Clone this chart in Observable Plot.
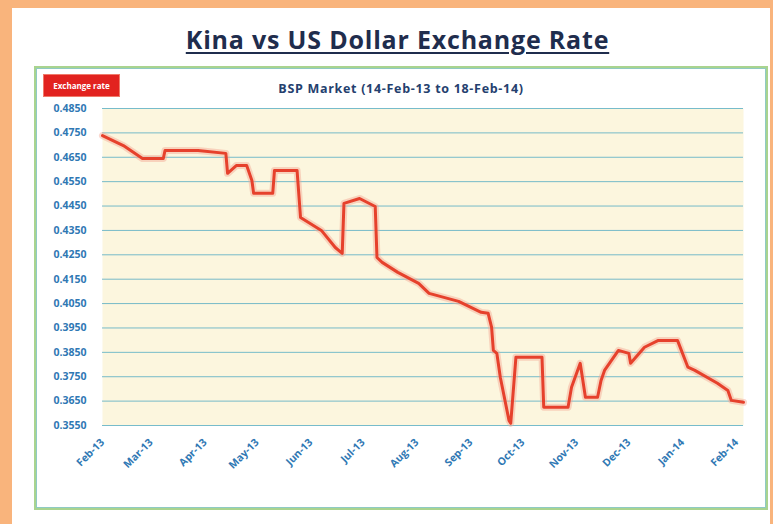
<!DOCTYPE html>
<html>
<head>
<meta charset="utf-8">
<script src="https://cdn.jsdelivr.net/npm/d3@7"></script>
<script src="https://cdn.jsdelivr.net/npm/@observablehq/plot@0.6"></script>
<style>
  html, body { margin: 0; padding: 0; }
  body { width: 773px; height: 524px; background: #f9b47c; position: relative; overflow: hidden; font-family: "Open Sans", sans-serif; }
  #panel { position: absolute; left: 12px; top: 8px; right: 3px; bottom: 0; background: #ffffff; }
  #frame { position: absolute; left: 34px; top: 66px; width: 730px; height: 440px; border: 2px solid #a9d48f; box-shadow: inset 0 0 0 1px #8fcac4; }
  #title { position: absolute; left: 0; width: 795px; top: 22px; text-align: center; font-size: 25px; letter-spacing: 0.8px; font-weight: 700; color: #1f2d4d; text-decoration: underline; text-underline-offset: 3px; }
  #subtitle { position: absolute; left: 0; width: 802px; top: 80px; text-align: center; font-size: 12.5px; letter-spacing: 0.7px; font-weight: 700; color: #24406e; }
  #legend { position: absolute; left: 43px; top: 74px; width: 75px; height: 21px; background: #e2231f; border: 1px solid #f07a6a; color: #fff; font-size: 8px; font-weight: 700; line-height: 21px; text-align: center; }
  #chart { position: absolute; left: 0; top: 0; }
</style>
</head>
<body>
<div id="panel"></div>
<div id="frame"></div>
<div id="title">Kina vs US Dollar Exchange Rate</div>
<div id="subtitle">BSP Market (14-Feb-13 to 18-Feb-14)</div>
<div id="legend">Exchange rate</div>
<div id="chart"></div>
<script>
const dates = [
  "2013-02-14","2013-02-26","2013-03-09","2013-03-21","2013-03-22","2013-04-10","2013-04-26","2013-04-27",
  "2013-05-02","2013-05-08","2013-05-11","2013-05-12","2013-05-23","2013-05-24","2013-06-06","2013-06-08",
  "2013-06-20","2013-06-28","2013-07-02","2013-07-03","2013-07-12","2013-07-21","2013-07-22","2013-07-25",
  "2013-08-03","2013-08-15","2013-08-21","2013-09-07","2013-09-20","2013-09-24","2013-09-26","2013-09-27",
  "2013-09-29","2013-10-01","2013-10-06","2013-10-07","2013-10-10","2013-10-25","2013-10-26","2013-11-09",
  "2013-11-11","2013-11-16","2013-11-19","2013-11-26","2013-11-28","2013-11-30","2013-12-08","2013-12-14",
  "2013-12-15","2013-12-23","2013-12-31","2014-01-11","2014-01-17","2014-01-21","2014-02-03","2014-02-09",
  "2014-02-11","2014-02-18"
];
const rates = [
  0.4739,0.4698,0.4645,0.4645,0.4678,0.4678,0.4666,0.4584,
  0.4616,0.4616,0.4555,0.4502,0.4502,0.4596,0.4596,0.4403,
  0.4350,0.4280,0.4256,0.4461,0.4481,0.4448,0.4239,0.4219,
  0.4178,0.4133,0.4092,0.4059,0.4014,0.4010,0.3952,0.3858,
  0.3846,0.3748,0.3571,0.3559,0.3830,0.3830,0.3625,0.3625,
  0.3707,0.3805,0.3666,0.3666,0.3735,0.3776,0.3858,0.3846,
  0.3805,0.3871,0.3899,0.3899,0.3789,0.3776,0.3723,0.3694,
  0.3653,0.3645
];
const yTicks = [0.4850,0.4750,0.4650,0.4550,0.4450,0.4350,0.4250,0.4150,0.4050,0.3950,0.3850,0.3750,0.3650,0.3550];
const xTickDates = ["2013-02-14","2013-03-14","2013-04-14","2013-05-14","2013-06-14","2013-07-14","2013-08-14",
  "2013-09-14","2013-10-14","2013-11-14","2013-12-14","2014-01-14","2014-02-14"];

const data = dates.map((d, i) => ({date: new Date(d + "T00:00:00Z"), value: rates[i]}));
const xTicks = xTickDates.map(d => new Date(d + "T00:00:00Z"));
const blue = "#2f78b4";

const chart = Plot.plot({
  width: 773,
  height: 524,
  marginLeft: 102,
  marginRight: 30,
  marginTop: 108,
  marginBottom: 99,
  style: {background: "transparent", fontFamily: "Open Sans, sans-serif", overflow: "visible"},
  x: {type: "utc", domain: [new Date("2013-02-14T00:00:00Z"), new Date("2014-02-18T00:00:00Z")]},
  y: {domain: [0.355, 0.485]},
  marks: [
    Plot.frame({fill: "#fcf6de", stroke: null}),
    Plot.gridY(yTicks, {stroke: "#5fb0c4", strokeOpacity: 0.85, strokeWidth: 1}),
    Plot.axisY(yTicks, {tickFormat: d3.format(".4f"), tickSize: 0, tickPadding: 16, fill: blue, fontWeight: "bold", fontSize: 10.5, label: null}),
    Plot.axisX(xTicks, {tickFormat: d3.utcFormat("%b-%y"), tickRotate: -45, tickSize: 0, tickPadding: 15, fill: blue, fontWeight: "bold", fontSize: 10.5, label: null}),
    Plot.line(data, {x: "date", y: "value", stroke: "#f4a793", strokeWidth: 7, strokeOpacity: 0.45}),
    Plot.line(data, {x: "date", y: "value", stroke: "#e6412c", strokeWidth: 3})
  ]
});
document.getElementById("chart").appendChild(chart);
</script>
</body>
</html>
